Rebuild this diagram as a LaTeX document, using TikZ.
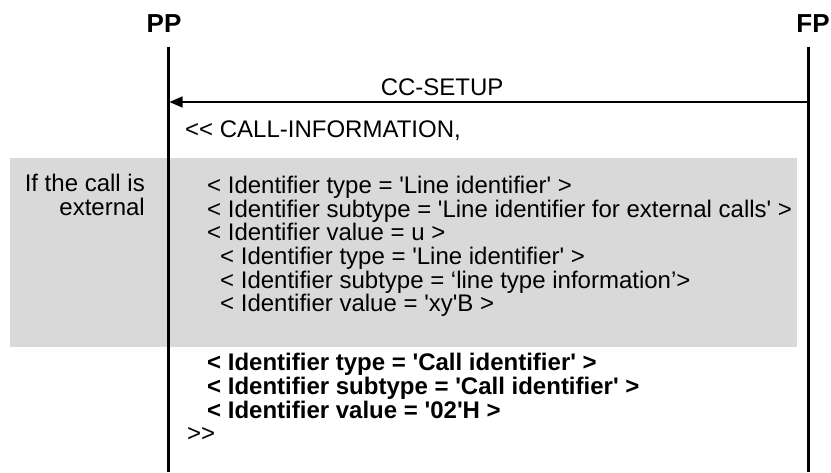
\documentclass[tikz,border=0pt]{standalone}
\usepackage{fontspec}
\setmainfont{Liberation Sans}[Ligatures=TeXOff]
\usetikzlibrary{arrows.meta}
\definecolor{boxgrey}{RGB}{217,217,217}
\tikzset{
  txt/.style={anchor=base west,inner sep=0pt,font=\fontsize{24}{26}\selectfont},
  bold/.style={txt,font=\fontsize{24}{26}\selectfont\bfseries},
  entity/.style={inner sep=0pt,font=\fontsize{26}{28}\selectfont\bfseries},
  lifeline/.style={line width=3pt},
}
\begin{document}
\begin{tikzpicture}[x=1pt,y=-1pt]
            \useasboundingbox (0,0) rectangle (831,472);
            \fill[boxgrey] (10,158) rectangle (797,347);
            \node[entity] (pp) at (164,24) {PP};
            \node[entity] (fp) at (813,24) {FP};
            \coordinate (pptop) at (168,47);
            \coordinate (ppbot) at (168,472);
            \coordinate (fptop) at (808,47);
            \coordinate (fpbot) at (808,472);
            \draw[lifeline] (pptop)--(ppbot);
            \draw[lifeline] (fptop)--(fpbot);
            \coordinate (fpsend) at (808,102);
            \coordinate (pprecv) at (169.5,102);
            \draw[line width=1.3pt,-{Triangle[length=13pt,width=11pt]}] (fpsend)--(pprecv)
                node[pos=0.573,above=6pt,inner sep=0pt,font=\fontsize{24}{26}\selectfont] (msg) {CC-SETUP};
            \node[txt] (open) at (185,137) {<< CALL-INFORMATION,};
            \node[txt,anchor=base east] (cond1) at (145,191) {If the call is};
            \node[txt,anchor=base east] (cond2) at (145,215) {external};
            \node[txt] (g1) at (207,193) {< Identifier type = 'Line identifier' >};
            \node[txt] (g2) at (207,217) {< Identifier subtype = 'Line identifier for external calls' >};
            \node[txt] (g3) at (207,240.5) {< Identifier value = u >};
            \node[txt] (g4) at (220,264) {< Identifier type = 'Line identifier' >};
            \node[txt] (g5) at (220,288) {< Identifier subtype = ‘line type information’>};
            \node[txt] (g6) at (220,311.5) {< Identifier value = 'xy'B >};
            \node[bold] (b1) at (207,370) {< Identifier type = 'Call identifier' >};
            \node[bold] (b2) at (207,394) {< Identifier subtype = 'Call identifier' >};
            \node[bold] (b3) at (207,418) {< Identifier value = '02'H >};
            \node[txt] (close) at (187,441) {>>};
\end{tikzpicture}
\end{document}
